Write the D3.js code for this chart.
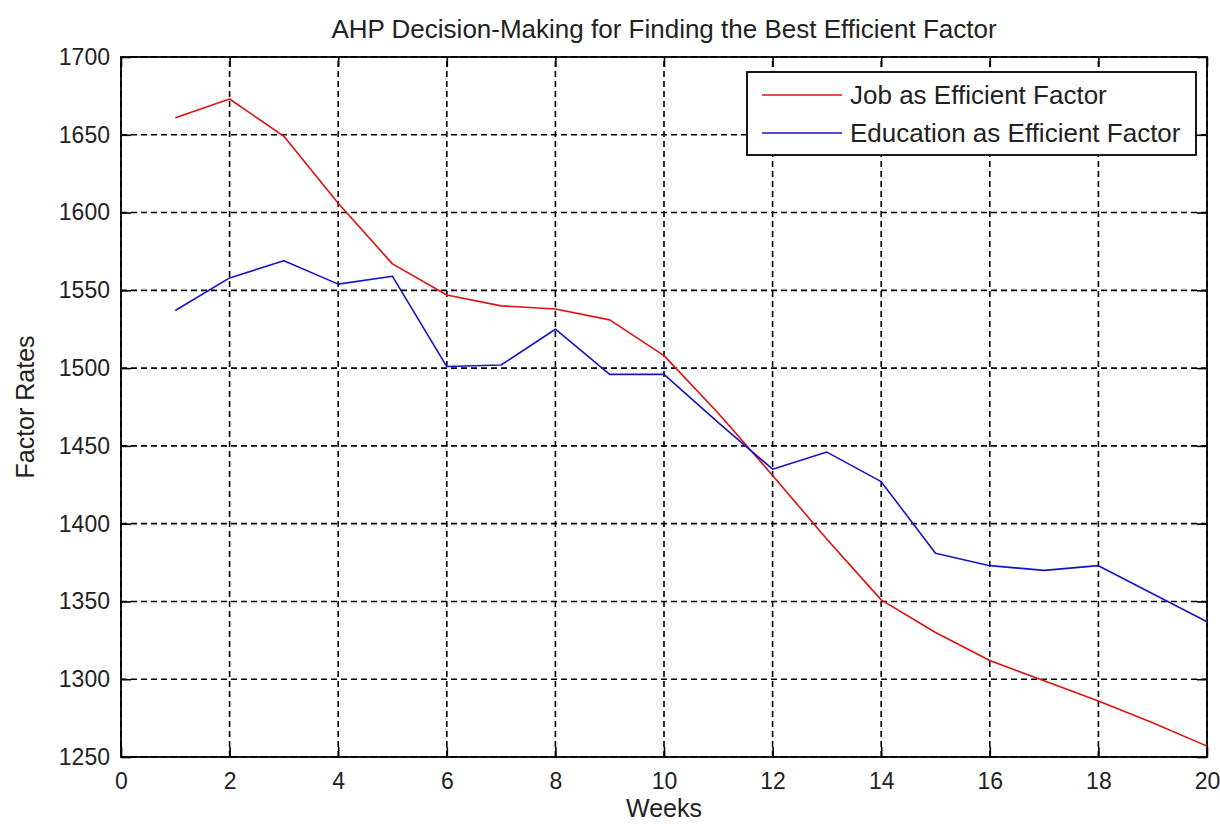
<!DOCTYPE html>
<html>
<head>
<meta charset="utf-8">
<script src="https://cdn.jsdelivr.net/npm/d3@7"></script>
<style>
  body { margin: 0; background: #fff; }
  text { font-family: "Liberation Sans", Arial, sans-serif; fill: #222; }
</style>
</head>
<body>
<div id="chart"></div>
<script>
const weeks = [1, 2, 3, 4, 5, 6, 7, 8, 9, 10, 11, 12, 13, 14, 15, 16, 17, 18, 19, 20];
const jobValues = [1661, 1673, 1649, 1606, 1567, 1547, 1540, 1538, 1531, 1508, 1471, 1431, 1390, 1351, 1330, 1312, 1299, 1286, 1272, 1257];
const eduValues = [1537, 1558, 1569, 1554, 1559, 1501, 1502, 1525, 1496, 1496, 1465, 1435, 1446, 1427, 1381, 1373, 1370, 1373, 1355, 1337];
const xTicks = [0, 2, 4, 6, 8, 10, 12, 14, 16, 18, 20];
const yTicks = [1250, 1300, 1350, 1400, 1450, 1500, 1550, 1600, 1650, 1700];
const seriesNames = ["Job as Efficient Factor", "Education as Efficient Factor"];
const seriesColors = ["#e01010", "#1515c8"];

const width = 1220, height = 824;
const margin = {left: 121, right: 13, top: 57, bottom: 67};

const svg = d3.select("#chart").append("svg")
    .attr("width", width)
    .attr("height", height);

const x = d3.scaleLinear().domain([0, 20]).range([margin.left, width - margin.right]);
const y = d3.scaleLinear().domain([1250, 1700]).range([height - margin.bottom, margin.top]);

// grid
const grid = svg.append("g").attr("stroke", "#000").attr("stroke-width", 1.6)
    .attr("stroke-dasharray", "6,4");
grid.selectAll(".gx").data(xTicks).enter().append("line")
    .attr("x1", d => x(d)).attr("x2", d => x(d))
    .attr("y1", y(1250)).attr("y2", y(1700));
grid.selectAll(".gy").data(yTicks).enter().append("line")
    .attr("x1", x(0)).attr("x2", x(20))
    .attr("y1", d => y(d)).attr("y2", d => y(d));

// axes with inward ticks
function styleAxis(g) {
    g.selectAll(".domain").remove();
    g.selectAll(".tick line").attr("stroke", "#000").attr("stroke-width", 1.6);
    g.selectAll("text").style("font-size", "23px").attr("fill", "#222");
}
svg.append("g").attr("transform", `translate(0,${y(1250)})`)
    .call(d3.axisBottom(x).tickValues(xTicks).tickSize(-10).tickPadding(16).tickFormat(d3.format("d")))
    .call(styleAxis);
svg.append("g").attr("transform", `translate(0,${y(1700)})`)
    .call(d3.axisTop(x).tickValues(xTicks).tickSize(-10).tickFormat(""))
    .call(styleAxis);
svg.append("g").attr("transform", `translate(${x(0)},0)`)
    .call(d3.axisLeft(y).tickValues(yTicks).tickSize(-10).tickPadding(11).tickFormat(d3.format("d")))
    .call(styleAxis);
svg.append("g").attr("transform", `translate(${x(20)},0)`)
    .call(d3.axisRight(y).tickValues(yTicks).tickSize(-10).tickFormat(""))
    .call(styleAxis);

svg.append("rect")
    .attr("x", x(0)).attr("y", y(1700))
    .attr("width", x(20) - x(0)).attr("height", y(1250) - y(1700))
    .attr("fill", "none").attr("stroke", "#000").attr("stroke-width", 1.8);

// series lines
const line = d3.line().x((d, i) => x(weeks[i])).y(d => y(d));
[jobValues, eduValues].forEach((vals, k) => {
    svg.append("path").datum(vals)
        .attr("d", line)
        .attr("fill", "none")
        .attr("stroke", seriesColors[k])
        .attr("stroke-width", 1.6)
        .attr("stroke-linejoin", "round");
});

// titles
svg.append("text")
    .attr("x", (x(0) + x(20)) / 2).attr("y", 38)
    .attr("text-anchor", "middle").style("font-size", "26px")
    .text("AHP Decision-Making for Finding the Best Efficient Factor");
svg.append("text")
    .attr("x", (x(0) + x(20)) / 2).attr("y", 817)
    .attr("text-anchor", "middle").style("font-size", "25px")
    .text("Weeks");
svg.append("text")
    .attr("transform", `translate(34,${(y(1250) + y(1700)) / 2}) rotate(-90)`)
    .attr("text-anchor", "middle").style("font-size", "25px")
    .text("Factor Rates");

// legend
const legend = svg.append("g");
legend.append("rect")
    .attr("x", 747).attr("y", 72).attr("width", 449).attr("height", 83)
    .attr("fill", "#fff").attr("stroke", "#000").attr("stroke-width", 1.8);
seriesNames.forEach((name, k) => {
    const cy = 95 + k * 38;
    legend.append("line")
        .attr("x1", 762).attr("x2", 842).attr("y1", cy).attr("y2", cy)
        .attr("stroke", seriesColors[k]).attr("stroke-width", 1.6);
    legend.append("text")
        .attr("x", 850).attr("y", cy + 9)
        .style("font-size", "26px")
        .text(name);
});
</script>
</body>
</html>
